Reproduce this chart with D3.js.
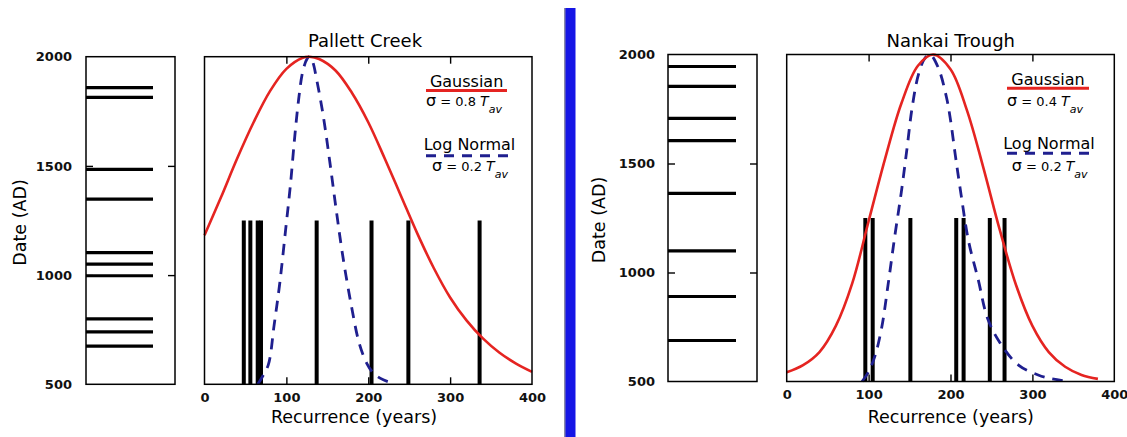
<!DOCTYPE html>
<html>
<head>
<meta charset="utf-8">
<script src="https://cdn.jsdelivr.net/npm/d3@7/dist/d3.min.js"></script>
<style>
  html, body { margin: 0; padding: 0; background: #fff; }
  svg { display: block; font-family: "DejaVu Sans", "Liberation Sans", sans-serif; }
</style>
</head>
<body>
<svg id="chart" width="1127" height="437"></svg>
<script>
// ---------- Pallett Creek ----------
// Event dates (AD)
const pallettDates = [1858, 1814, 1484, 1348, 1103, 1050, 997, 800, 740, 675];
// Recurrence intervals (years)
const pallettIntervals = [48, 56, 65, 69, 137, 204, 249, 336];
// Gaussian (sigma = 0.8 Tav), peak-normalised
const pallettGaussX = [0, 20, 40, 60, 80, 100, 120, 128, 140, 160, 180, 200, 220, 240, 260, 280, 300, 320, 340, 360, 380, 400];
const pallettGaussY = [0.455, 0.57, 0.69, 0.80, 0.895, 0.963, 0.997, 1.0, 0.993, 0.958, 0.89, 0.80, 0.69, 0.575, 0.46, 0.355, 0.265, 0.195, 0.14, 0.097, 0.064, 0.038];
// Log normal (sigma = 0.2 Tav), peak-normalised
const pallettLognX = [65, 70, 78, 85, 92, 99, 105, 110, 115, 120, 125, 128, 132, 137, 145, 153, 161, 169, 179, 189, 198, 206, 215, 224, 232];
const pallettLognY = [0, 0.02, 0.06, 0.18, 0.31, 0.47, 0.61, 0.75, 0.87, 0.955, 0.992, 1.0, 0.985, 0.93, 0.82, 0.68, 0.53, 0.39, 0.245, 0.125, 0.065, 0.035, 0.018, 0.008, 0.003];

// ---------- Nankai Trough ----------
const nankaiDates = [1945, 1854, 1707, 1605, 1363, 1099, 890, 688];
const nankaiIntervals = [96, 105, 151, 207, 216, 248, 266];
// Gaussian (sigma = 0.4 Tav)
const nankaiGaussX = [0, 20, 40, 60, 80, 100, 120, 140, 160, 179, 200, 220, 240, 260, 280, 300, 320, 340, 360, 380];
const nankaiGaussY = [0.028, 0.05, 0.09, 0.17, 0.30, 0.49, 0.68, 0.85, 0.965, 1.0, 0.955, 0.83, 0.655, 0.465, 0.295, 0.17, 0.09, 0.045, 0.02, 0.008];
// Log normal (sigma = 0.2 Tav)
const nankaiLognX = [92, 100, 108, 116, 124, 132, 140, 147, 153, 161, 169, 175, 185, 195, 200, 206, 213, 222, 234, 245, 260, 283, 307, 322, 337];
const nankaiLognY = [0, 0.03, 0.08, 0.165, 0.30, 0.445, 0.58, 0.715, 0.835, 0.94, 0.99, 1.0, 0.96, 0.87, 0.80, 0.69, 0.57, 0.43, 0.31, 0.195, 0.12, 0.05, 0.02, 0.009, 0.003];

// ---------- Axis ticks ----------
const dateTicks = [500, 1000, 1500, 2000];
const dateInnerTicks = [1000, 1500];
const recurrenceTicks = [0, 100, 200, 300, 400];
const recurrenceInnerTicks = [100, 200, 300];

const panels = [
  {
    title: "Pallett Creek",
    dates: pallettDates, intervals: pallettIntervals,
    gauss: d3.zip(pallettGaussX, pallettGaussY),
    logn: d3.zip(pallettLognX, pallettLognY),
    gaussSigma: "0.8", lognSigma: "0.2",
    top: 56.7, bottom: 384.3,
    small: { x0: 86, x1: 175, lineEnd: 153, labelRight: 72 },
    main: { x0: 204.5, x1: 532 },
    yLabelX: 19.5,
    titleX: 365, xLabelX: 354,
    legend: { gx: 466.6, gy: 87, line0: 426, line1: 507, lineY: 90.5, s1x: 426, s1y: 106,
              lx: 469.5, ly: 150, dash0: 426, dash1: 508, dashY: 155.7, s2x: 432, s2y: 171 }
  },
  {
    title: "Nankai Trough",
    dates: nankaiDates, intervals: nankaiIntervals,
    gauss: d3.zip(nankaiGaussX, nankaiGaussY),
    logn: d3.zip(nankaiLognX, nankaiLognY),
    gaussSigma: "0.4", lognSigma: "0.2",
    top: 54.5, bottom: 381.5,
    small: { x0: 668, x1: 757, lineEnd: 736, labelRight: 655 },
    main: { x0: 786.7, x1: 1114.3 },
    yLabelX: 599,
    titleX: 950.8, xLabelX: 950.8,
    legend: { gx: 1048, gy: 85, line0: 1007, line1: 1089, lineY: 88.3, s1x: 1007, s1y: 106,
              lx: 1049, ly: 148.5, dash0: 1007, dash1: 1089, dashY: 153.3, s2x: 1011.7, s2y: 171 }
  }
];

const RED = "#e52421";
const NAVY = "#1f1f8f";
const svg = d3.select("#chart");

// Separator between the two sites
svg.append("rect").attr("x", 564).attr("y", 8).attr("width", 2).attr("height", 429).attr("fill", "#8a8aa8");
svg.append("rect").attr("x", 565.5).attr("y", 8).attr("width", 10).attr("height", 429).attr("fill", "#1515e6");

function sigmaLine(g, x, y, value) {
  const t = g.append("text").attr("x", x).attr("y", y).attr("fill", "#000");
  t.append("tspan").attr("font-size", 16).text("σ");
  t.append("tspan").attr("font-size", 13).text(" = " + value + " ");
  t.append("tspan").attr("font-size", 14).attr("font-style", "italic").text("T");
  t.append("tspan").attr("font-size", 11).attr("font-style", "italic").attr("dy", 7).text("av");
}

panels.forEach(p => {
  const g = svg.append("g");

  // ----- event dates column -----
  const yDate = d3.scaleLinear().domain([500, 2000]).range([p.bottom, p.top]);
  const s = p.small;

  g.selectAll(null).data(p.dates).join("line")
    .attr("x1", s.x0).attr("x2", s.lineEnd)
    .attr("y1", d => yDate(d)).attr("y2", d => yDate(d))
    .attr("stroke", "#000").attr("stroke-width", 3.2);

  // labels on the left
  const dateAxis = g.append("g").attr("transform", `translate(${s.x0},0)`)
    .call(d3.axisLeft(yDate).tickValues(dateTicks).tickSize(0).tickPadding(s.x0 - s.labelRight).tickFormat(d3.format("d")));
  dateAxis.select(".domain").remove();
  dateAxis.selectAll("text").attr("font-size", 13).attr("font-weight", "bold")
    .attr("font-family", "DejaVu Sans").attr("fill", "#111");

  // inner ticks on both sides
  g.append("g").attr("transform", `translate(${s.x0},0)`)
    .call(d3.axisRight(yDate).tickValues(dateInnerTicks).tickSize(7).tickFormat(""))
    .call(a => a.select(".domain").remove())
    .selectAll("line").attr("stroke", "#000").attr("stroke-width", 1.4);
  g.append("g").attr("transform", `translate(${s.x1},0)`)
    .call(d3.axisLeft(yDate).tickValues(dateInnerTicks).tickSize(7).tickFormat(""))
    .call(a => a.select(".domain").remove())
    .selectAll("line").attr("stroke", "#000").attr("stroke-width", 1.4);

  g.append("rect").attr("x", s.x0).attr("y", p.top)
    .attr("width", s.x1 - s.x0).attr("height", p.bottom - p.top)
    .attr("fill", "none").attr("stroke", "#000").attr("stroke-width", 1.5);

  g.append("text")
    .attr("transform", `translate(${p.yLabelX + 6},${(p.top + p.bottom) / 2 + 2}) rotate(-90)`)
    .attr("text-anchor", "middle").attr("font-size", 17.5).attr("fill", "#000")
    .text("Date (AD)");

  // ----- recurrence plot -----
  const m = p.main;
  const x = d3.scaleLinear().domain([0, 400]).range([m.x0, m.x1]);
  const y = d3.scaleLinear().domain([0, 1]).range([p.bottom, p.top]);

  // recurrence intervals as bars of half height
  g.selectAll(null).data(p.intervals).join("line")
    .attr("x1", d => x(d)).attr("x2", d => x(d))
    .attr("y1", y(0)).attr("y2", y(0.5))
    .attr("stroke", "#000").attr("stroke-width", 4);

  const line = d3.line().x(d => x(d[0])).y(d => y(d[1])).curve(d3.curveCatmullRom.alpha(0.5));

  g.append("path").datum(p.logn).attr("d", line)
    .attr("fill", "none").attr("stroke", NAVY).attr("stroke-width", 2.8)
    .attr("stroke-dasharray", "11,8");

  g.append("path").datum(p.gauss).attr("d", line)
    .attr("fill", "none").attr("stroke", RED).attr("stroke-width", 2.6);

  // axis labels below
  const xAxis = g.append("g").attr("transform", `translate(0,${p.bottom})`)
    .call(d3.axisBottom(x).tickValues(recurrenceTicks).tickSize(0).tickPadding(8).tickFormat(d3.format("d")));
  xAxis.select(".domain").remove();
  xAxis.selectAll("text").attr("font-size", 13).attr("font-weight", "bold")
    .attr("font-family", "DejaVu Sans").attr("fill", "#111");

  // inner ticks on top and bottom
  g.append("g").attr("transform", `translate(0,${p.bottom})`)
    .call(d3.axisTop(x).tickValues(recurrenceInnerTicks).tickSize(7).tickFormat(""))
    .call(a => a.select(".domain").remove())
    .selectAll("line").attr("stroke", "#000").attr("stroke-width", 1.4);
  g.append("g").attr("transform", `translate(0,${p.top})`)
    .call(d3.axisBottom(x).tickValues(recurrenceInnerTicks).tickSize(7).tickFormat(""))
    .call(a => a.select(".domain").remove())
    .selectAll("line").attr("stroke", "#000").attr("stroke-width", 1.4);

  g.append("rect").attr("x", m.x0).attr("y", p.top)
    .attr("width", m.x1 - m.x0).attr("height", p.bottom - p.top)
    .attr("fill", "none").attr("stroke", "#000").attr("stroke-width", 1.5);

  g.append("text").attr("x", p.titleX).attr("y", 46.5)
    .attr("text-anchor", "middle").attr("font-size", 18).attr("fill", "#000")
    .text(p.title);

  g.append("text").attr("x", p.xLabelX).attr("y", 423)
    .attr("text-anchor", "middle").attr("font-size", 17.5).attr("fill", "#000")
    .text("Recurrence (years)");

  // ----- legend -----
  const L = p.legend;
  g.append("text").attr("x", L.gx).attr("y", L.gy).attr("text-anchor", "middle")
    .attr("font-size", 16).attr("fill", "#000").text("Gaussian");
  g.append("line").attr("x1", L.line0).attr("x2", L.line1).attr("y1", L.lineY).attr("y2", L.lineY)
    .attr("stroke", RED).attr("stroke-width", 3);
  sigmaLine(g, L.s1x, L.s1y, p.gaussSigma);

  g.append("text").attr("x", L.lx).attr("y", L.ly).attr("text-anchor", "middle")
    .attr("font-size", 16).attr("fill", "#000").text("Log Normal");
  g.append("line").attr("x1", L.dash0).attr("x2", L.dash1).attr("y1", L.dashY).attr("y2", L.dashY)
    .attr("stroke", NAVY).attr("stroke-width", 3).attr("stroke-dasharray", "10,8");
  sigmaLine(g, L.s2x, L.s2y, p.lognSigma);
});
</script>
</body>
</html>
